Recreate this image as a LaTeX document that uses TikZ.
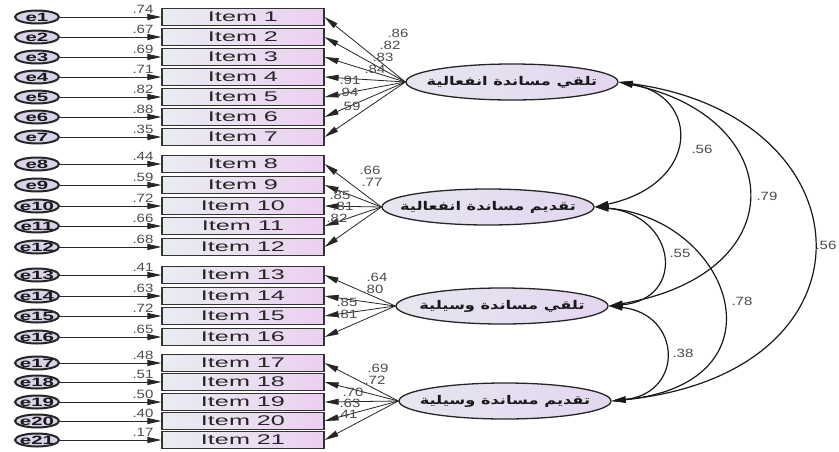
\documentclass[tikz,border=0pt]{standalone}
\usepackage{fontspec}
\setmainfont{Liberation Sans}
\newfontfamily\itemfont[FakeStretch=1.8]{Liberation Sans}
\newfontfamily\numfont[FakeStretch=1.25]{Liberation Sans}
\newfontfamily\errfont[FakeStretch=1.7]{Liberation Sans Bold}
\newfontfamily\arabicfont[Script=Arabic,FakeStretch=1.35]{DejaVu Sans Bold}
\TeXXeTstate=1
\usetikzlibrary{arrows.meta,shapes.geometric}
\definecolor{itemL}{HTML}{E9ECF2}
\definecolor{itemR}{HTML}{EBD0F0}
\definecolor{errfill}{HTML}{D9D2E8}
\definecolor{latL}{HTML}{E6E6F0}
\definecolor{latR}{HTML}{E3D6F0}
\tikzset{
  itembox/.style={draw=black!80, line width=1.2pt, minimum width=162pt, minimum height=17pt, inner sep=0pt,
    left color=itemL, right color=itemR, text=black!85, font=\itemfont\fontsize{14}{14}\selectfont},
  errnode/.style={ellipse, draw=black!85, line width=2pt, fill=errfill, minimum width=44pt, minimum height=13pt,
    inner sep=0pt, text=black!90, font=\errfont\fontsize{12}{12}\selectfont},
  latent/.style={ellipse, draw=black!85, line width=1.3pt, left color=latL, right color=latR, minimum width=212pt,
    minimum height=36pt, inner sep=0pt, text=black!90, font=\arabicfont\fontsize{12}{12}\selectfont},
  arr/.style={-{Triangle[length=14pt,width=6pt]}, line width=0.8pt, draw=black!85},
  cov/.style={{Triangle[length=14pt,width=6pt]}-{Triangle[length=14pt,width=6pt]}, line width=1.2pt, draw=black!90},
  lbl/.style={font=\numfont\fontsize{12}{12}\selectfont, text=black!70, inner sep=0pt}
}
\begin{document}
\begin{tikzpicture}[x=1pt,y=-1pt]
\useasboundingbox[fill=white] (0,0) rectangle (839,451);
% latent variables
\node[latent] (L1) at (512,82) {\makebox[0pt]{\beginR تلقي مساندة انفعالية\endR}};
\node[latent] (L2) at (488,207) {\makebox[0pt]{\beginR تقديم مساندة انفعالية\endR}};
\node[latent] (L3) at (502,306) {\makebox[0pt]{\beginR تلقي مساندة وسيلية\endR}};
\node[latent] (L4) at (505,401) {\makebox[0pt]{\beginR تقديم مساندة وسيلية\endR}};
% items, errors, squared multiple correlations
\foreach \i/\y/\sm in {1/17/.74, 2/37/.67, 3/57/.69, 4/77/.71, 5/97/.82, 6/117/.88, 7/137/.35,
  8/164/.44, 9/185/.59, 10/206/.72, 11/226/.66, 12/247/.68,
  13/275/.41, 14/296/.63, 15/316/.72, 16/337/.65,
  17/363/.48, 18/382/.51, 19/402/.50, 20/421/.40, 21/440/.17}{
  \node[itembox] (I\i) at (243,\y) {Item \i};
  \node[errnode] (e\i) at (37,\y) {\makebox[0pt]{e\i}};
  \draw[arr] (e\i) -- (I\i);
  \node[lbl] (r\i) at (143,\y-8) {\sm};
}
% loadings
\foreach \L/\i/\ld/\lx/\ly in {L1/1/.86/398/33, L1/2/.82/390/45, L1/3/.83/383/57, L1/4/.84/375/69,
  L1/5/.91/350/80, L1/6/.94/348/92, L1/7/.59/350/106,
  L2/8/.66/370/170, L2/9/.77/372/182, L2/10/.85/340/195, L2/11/.81/343/206, L2/12/.82/337/218,
  L3/13/.64/377/277, L3/14/.80/373/289, L3/15/.85/347/302, L3/16/.81/347/314,
  L4/17/.69/378/368, L4/18/.72/375/380, L4/19/.70/353/392, L4/20/.63/350/403, L4/21/.41/347/414}{
  \draw[arr] (\L.west) -- (I\i.east);
  \node[lbl] (w\i) at (\lx,\ly) {\ld};
}
% covariances
\draw[cov] (L1.east) .. controls +(82,14) and +(106,-23) .. (L2.east);
\draw[cov] (L1.east) .. controls +(167,34) and +(190,-33) .. (L3.east);
\draw[cov] (L1.east) .. controls +(252,34) and +(275,-28) .. (L4.east);
\draw[cov] (L2.east) .. controls +(82,8) and +(78,-7) .. (L3.east);
\draw[cov] (L2.east) .. controls +(137,12) and +(178,-18) .. (L4.east);
\draw[cov] (L3.east) .. controls +(73,8) and +(73,-8) .. (L4.east);
\node[lbl] (c12) at (702,149) {.56};
\node[lbl] (c13) at (767,196) {.79};
\node[lbl] (c14) at (826,245) {.56};
\node[lbl] (c23) at (680,253) {.55};
\node[lbl] (c24) at (742,301) {.78};
\node[lbl] (c34) at (683,353) {.38};
\end{tikzpicture}
\end{document}
